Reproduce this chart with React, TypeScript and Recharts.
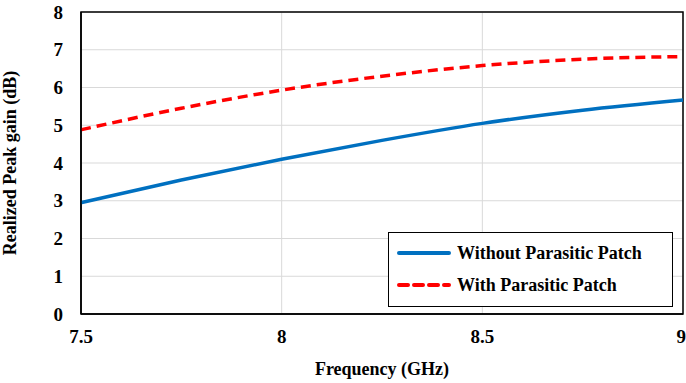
import React from 'react';
import { LineChart, Line, XAxis, YAxis, CartesianGrid, ReferenceArea } from 'recharts';

const frequency = [7.5, 7.75, 8, 8.25, 8.5, 8.75, 9];
const withoutParasitic = [2.95, 3.55, 4.1, 4.6, 5.05, 5.4, 5.67];
const withParasitic = [4.88, 5.45, 5.93, 6.3, 6.58, 6.75, 6.82];
const xTicks = [7.5, 8, 8.5, 9];
const yTicks = [0, 1, 2, 3, 4, 5, 6, 7, 8];

const data = frequency.map((f, i) => ({ f, a: withoutParasitic[i], b: withParasitic[i] }));

const FONT = '"Liberation Serif", "Times New Roman", serif';

const LegendBox = () => (
  <div
    style={{
      position: 'absolute',
      left: 388,
      top: 232,
      border: '1.5px solid #000',
      background: '#fff',
      width: 285,
      height: 75,
      boxSizing: 'border-box',
      fontFamily: FONT,
      fontWeight: 'bold',
      fontSize: 18,
      color: '#000',
      padding: '4px 0 0 8px',
    }}
  >
    <div style={{ display: 'flex', alignItems: 'center', height: 32, whiteSpace: 'nowrap' }}>
      <svg width={54} height={8} style={{ marginRight: 6 }}>
        <line x1={2} y1={4} x2={52} y2={4} stroke="#0070C0" strokeWidth={4} strokeLinecap="round" />
      </svg>
      Without Parasitic Patch
    </div>
    <div style={{ display: 'flex', alignItems: 'center', height: 32, whiteSpace: 'nowrap' }}>
      <svg width={54} height={8} style={{ marginRight: 6 }}>
        <line x1={2} y1={4} x2={52} y2={4} stroke="#FF0000" strokeWidth={4} strokeDasharray="9 6" strokeLinecap="round" />
      </svg>
      With Parasitic Patch
    </div>
  </div>
);

export default function App() {
  return (
    <div style={{ position: 'absolute', left: 0, top: 0, width: 686, height: 383, background: '#fff' }}>
      <LineChart width={686} height={383} data={data} margin={{ top: 12, right: 3, bottom: 0, left: 0 }}>
        <CartesianGrid stroke="#d9d9d9" strokeWidth={1} />
        <XAxis
          dataKey="f"
          type="number"
          domain={[7.5, 9]}
          ticks={xTicks}
          tickLine={false}
          axisLine={{ stroke: '#000', strokeWidth: 1.5 }}
          height={69}
          tickMargin={10}
          tick={{ fill: '#000', fontFamily: FONT, fontWeight: 'bold', fontSize: 19 }}
          label={{ value: 'Frequency (GHz)', position: 'insideBottom', offset: 8, fill: '#000', fontFamily: FONT, fontWeight: 'bold', fontSize: 18 }}
        />
        <YAxis
          type="number"
          domain={[0, 8]}
          ticks={yTicks}
          tickLine={false}
          axisLine={{ stroke: '#000', strokeWidth: 1.5 }}
          width={81}
          tickMargin={12}
          tick={{ fill: '#000', fontFamily: FONT, fontWeight: 'bold', fontSize: 19 }}
          label={{ value: 'Realized Peak gain (dB)', angle: -90, position: 'insideLeft', offset: 10, style: { textAnchor: 'middle' }, fill: '#000', fontFamily: FONT, fontWeight: 'bold', fontSize: 18 }}
        />
        <ReferenceArea x1={7.5} x2={9} y1={0} y2={8} fill="none" stroke="#000" strokeWidth={1.5} ifOverflow="visible" />
        <Line type="monotone" dataKey="a" stroke="#0070C0" strokeWidth={3.5} dot={false} isAnimationActive={false} />
        <Line type="monotone" dataKey="b" stroke="#FF0000" strokeWidth={3.5} strokeDasharray="10 6" dot={false} isAnimationActive={false} />
      </LineChart>
      <LegendBox />
    </div>
  );
}
